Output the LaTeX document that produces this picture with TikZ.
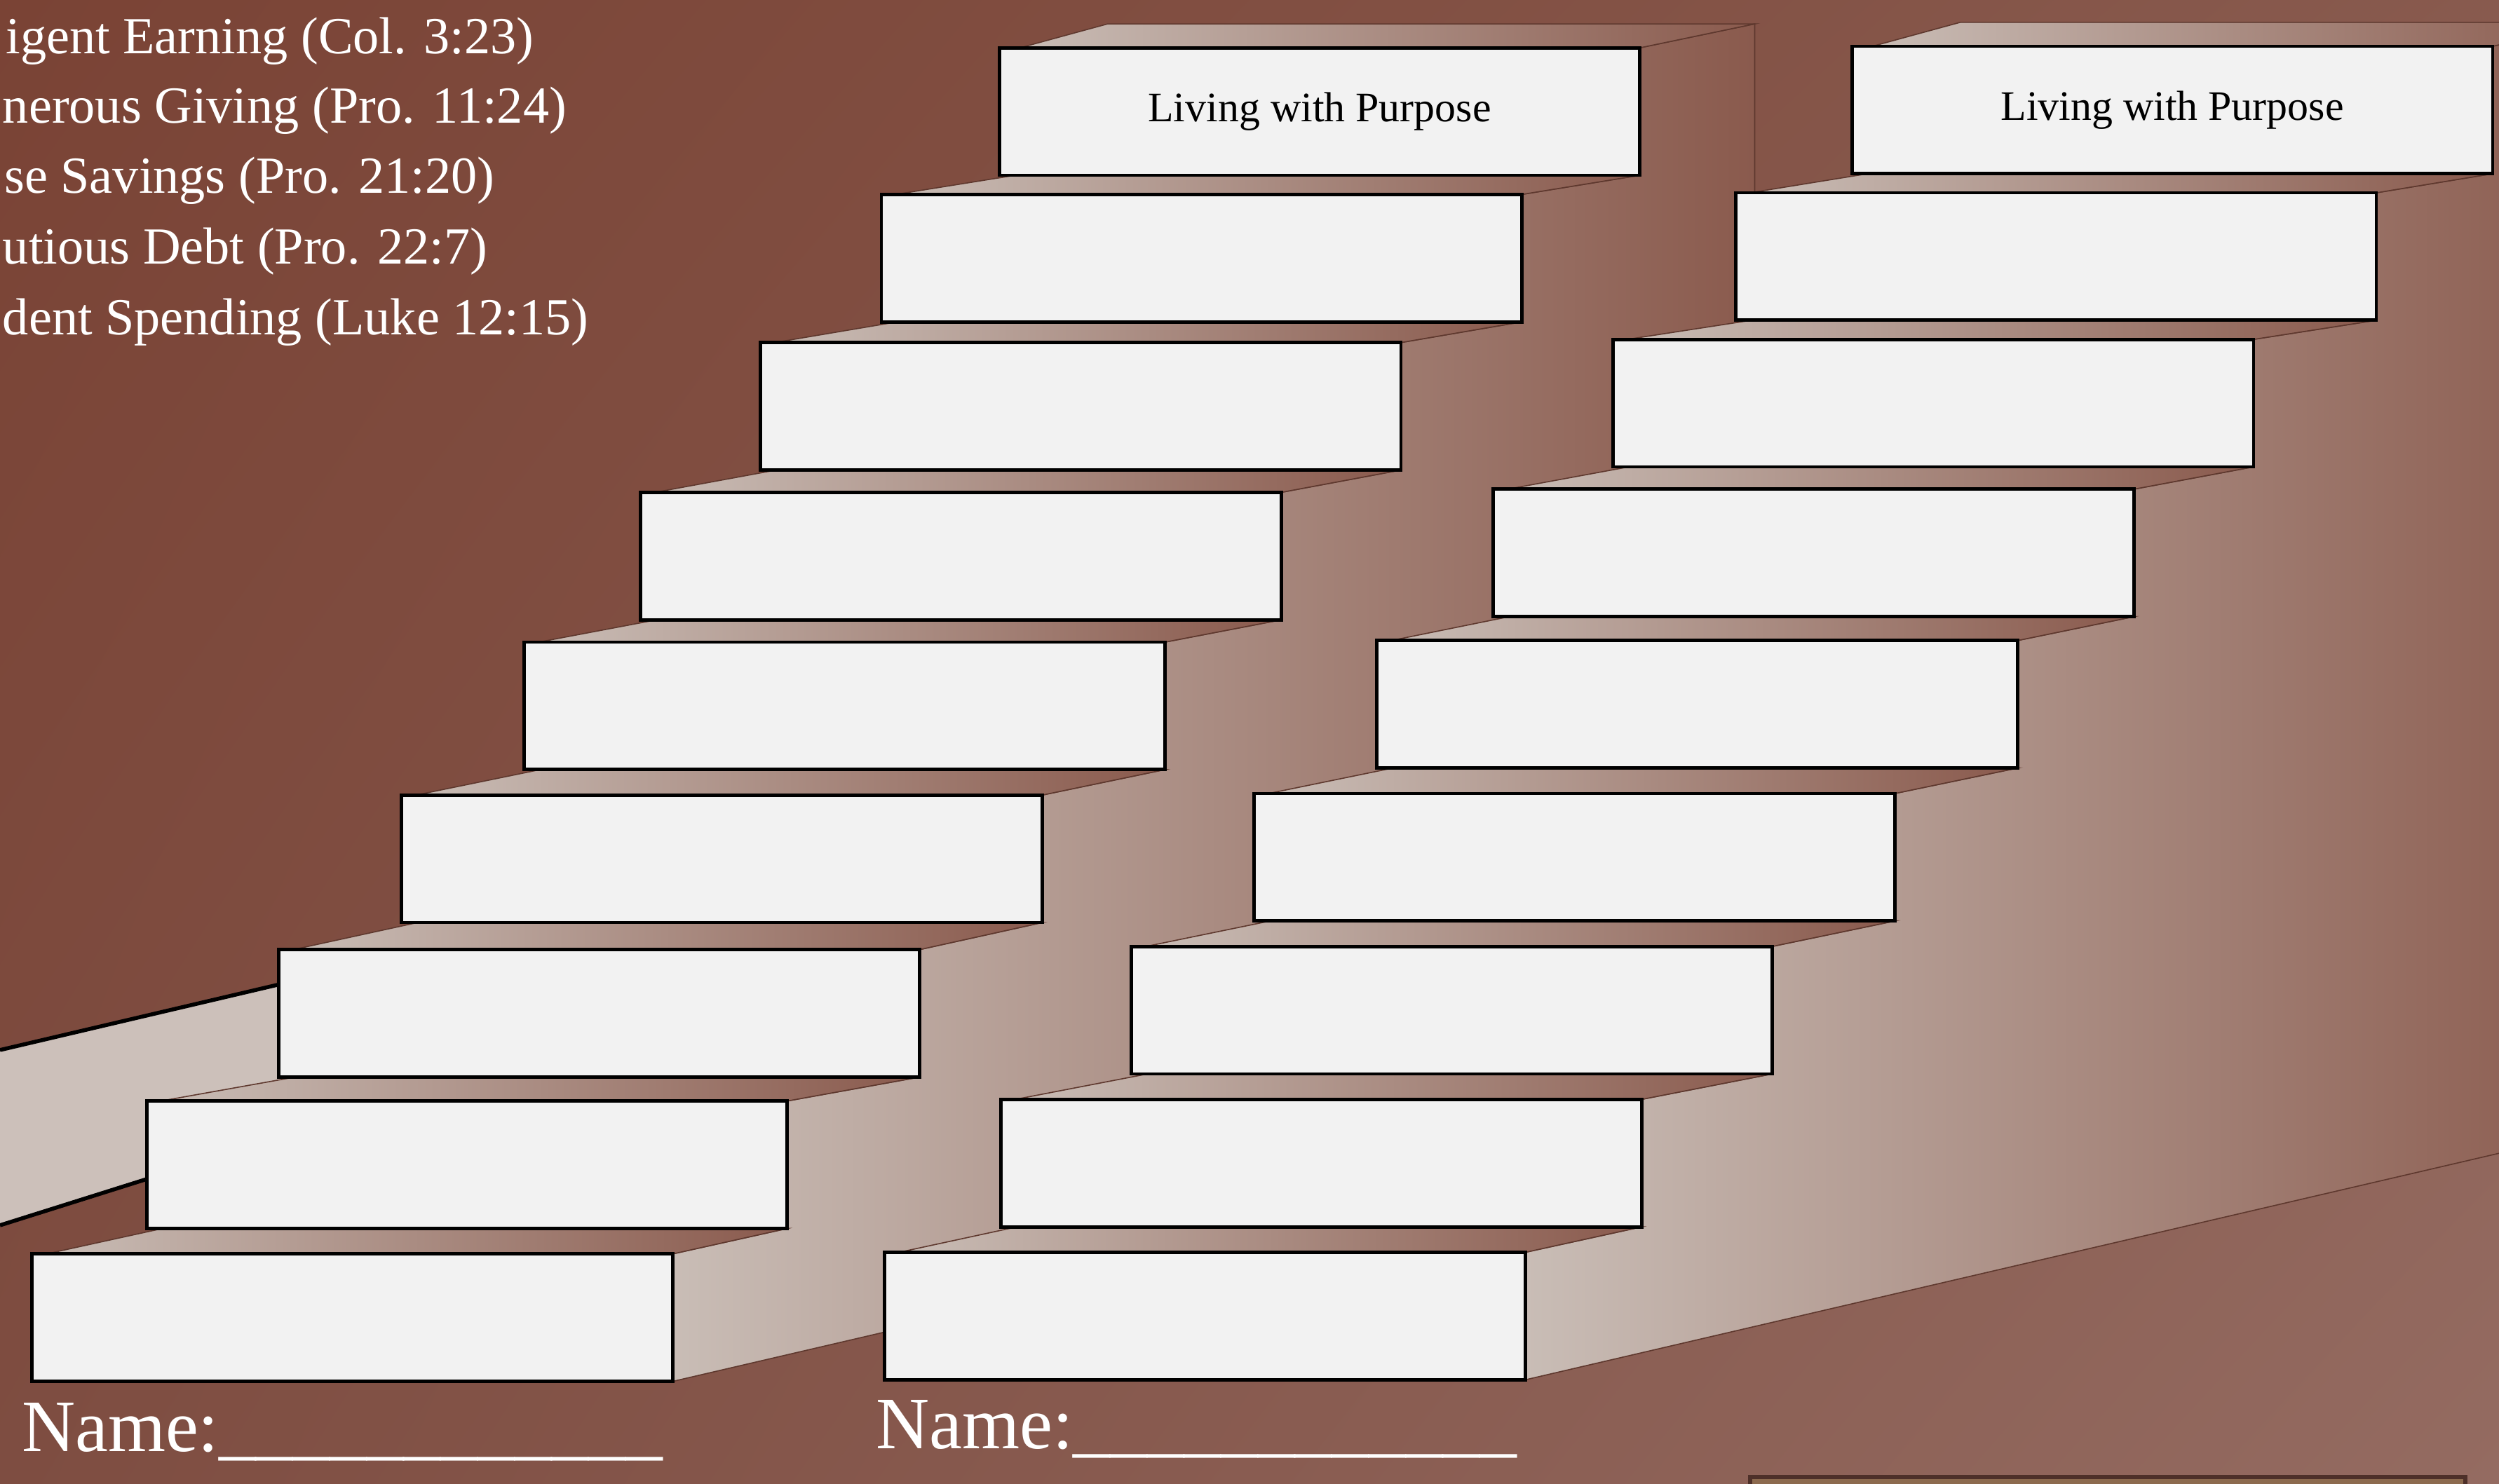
\documentclass[tikz,border=0pt]{standalone}
\usepackage{fontspec}
\setmainfont{Liberation Serif}
\usetikzlibrary{calc,positioning,shadings}
\definecolor{wallUL}{HTML}{7A4335}
\definecolor{wallUR}{HTML}{885A4E}
\definecolor{wallLL}{HTML}{7E4D41}
\definecolor{wallLR}{HTML}{946B61}
\definecolor{beige}{HTML}{C9BDB6}
\definecolor{umber}{HTML}{8A5A4D}
\definecolor{paper}{HTML}{F2F2F2}
\definecolor{seam}{HTML}{5E382E}
\definecolor{plate}{HTML}{8C6A4E}
\definecolor{platerim}{HTML}{4E3029}
\tikzset{
  riser/.style={draw=black,line width=0.6pt,fill=paper,minimum width=40.2mm,minimum height=8mm,inner sep=0pt,outer sep=0pt,anchor=north west,font=\fontsize{7.5}{9}\selectfont},
  tread/.style={left color=beige,right color=umber,draw=seam,line width=0.2pt},
  flank/.style={left color=beige,right color=umber,draw=seam,line width=0.2pt},
  rail/.style={draw=black,line width=0.7pt},
  verse/.style={text=white,inner sep=0pt,anchor=base west,font=\fontsize{9.3}{11}\selectfont},
  namelbl/.style={text=white,inner sep=0pt,anchor=base west,font=\fontsize{13.2}{15}\selectfont},
}
\begin{document}
\begin{tikzpicture}[x=0.1mm,y=-0.1mm]
 \useasboundingbox (0,0) rectangle (1568,931);
 \clip (0,0) rectangle (1568,931);
 \shade[upper left=wallUL,upper right=wallUR,lower left=wallLL,lower right=wallLR] (0,0) rectangle (1568,931);
 % flank of a third flight, cut off at the left
 \fill[beige!95!white] (0,659) -- (200,612) -- (200,706) -- (0,769) -- cycle;
 \draw[rail] (0,659) -- (200,612);
 \draw[rail] (0,769) -- (200,706);
 % left flight
 \foreach \k/\x/\y in {1/627/30,2/553/122,3/477/215,4/402/309,5/329/403,6/252/499,7/175/596,8/92/691,9/20/787}
   \coordinate (l\k) at (\x,\y);
 \path[flank] ($(l9)+(402,80)$)
   \foreach \k/\j in {9/8,8/7,7/6,6/5,5/4,4/3,3/2,2/1}{ -- ($(l\k)+(402,0)$) -- ($(l\j)+(402,80)$) }
   -- ($(l1)+(402,0)$) -- ($(l1)+(474,-15)$) -- ($(l1)+(474,679)$) -- cycle;
 \path[tread] ($(l1)+(13,0)$) -- ($(l1)+(402,0)$) -- ($(l1)+(474,-15)$) -- ($(l1)+(68,-15)$) -- cycle;
 \foreach \k/\j in {2/1,3/2,4/3,5/4,6/5,7/6,8/7,9/8}
   \path[tread] ($(l\k)+(9,0)$) -- ($(l\k)+(402,0)$) -- ($(l\j)+(402,80)$) -- ($(l\j)+(10,80)$) -- cycle;
 \node[riser] (lstep1) at (l1) {Living with Purpose};
 \foreach \k in {2,...,9}
   \node[riser] (lstep\k) at (l\k) {};
 % right flight
 \foreach \k/\x/\y in {1/1162/29,2/1089/121,3/1012/213,4/937/307,5/864/402,6/787/498,7/710/594,8/628/690,9/555/786}
   \coordinate (r\k) at (\x,\y);
 \path[flank] ($(r9)+(402,80)$)
   \foreach \k/\j in {9/8,8/7,7/6,6/5,5/4,4/3,3/2,2/1}{ -- ($(r\k)+(402,0)$) -- ($(r\j)+(402,80)$) }
   -- ($(r1)+(402,0)$) -- ($(r1)+(474,-15)$) -- ($(r1)+(474,679)$) -- cycle;
 \path[tread] ($(r1)+(13,0)$) -- ($(r1)+(402,0)$) -- ($(r1)+(474,-15)$) -- ($(r1)+(68,-15)$) -- cycle;
 \foreach \k/\j in {2/1,3/2,4/3,5/4,6/5,7/6,8/7,9/8}
   \path[tread] ($(r\k)+(9,0)$) -- ($(r\k)+(402,0)$) -- ($(r\j)+(402,80)$) -- ($(r\j)+(10,80)$) -- cycle;
 \node[riser] (rstep1) at (r1) {Living with Purpose};
 \foreach \k in {2,...,9}
   \node[riser] (rstep\k) at (r\k) {};
 % verses, cut off at the left edge
 \foreach \n/\x/\y/\t in {1/3/33.5/igent Earning (Col. 3:23),2/1/77/nerous Giving (Pro. 11:24),3/2/121/se Savings (Pro. 21:20),4/1/165.5/utious Debt (Pro. 22:7),5/1/210/dent Spending (Luke 12:15)}
   \node[verse] (verse\n) at (\x,\y) {\t};
 \node[namelbl] (lname) at (13,911) {Name:\_\_\_\_\_\_\_\_\_\_\_\_};
 \node[namelbl] (rname) at (549,909) {Name:\_\_\_\_\_\_\_\_\_\_\_\_};
 % plate at the bottom edge
 \draw[draw=platerim,fill=plate,line width=0.8pt] (1098,927) rectangle (1547,960);
\end{tikzpicture}
\end{document}
